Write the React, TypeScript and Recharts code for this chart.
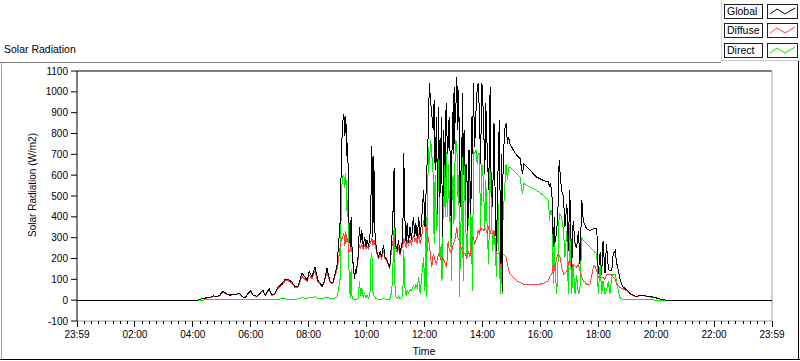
import React from 'react';
import { LineChart, Line, XAxis, YAxis, ReferenceLine } from 'recharts';

// time of day in minutes (0 = start of day, 1440 = end of day)
const minutes = [0,250,255,265,276,282,290,296,302,311,
317,323,331,336,342,348,354,360,365,373,
379,385,390,398,404,410,416,425,431,437,
445,452,458,466,472,477,481,487,493,499,
508,512,518,524,530,535,539,545,548,550,
553,555,557,559,561,563,566,568,570,572,
575,577,579,583,585,588,590,593,596,599,
601,604,607,609,611,613,615,617,619,622,
625,628,631,635,638,642,645,648,652,654,
657,659,661,664,666,669,672,675,677,680,
682,684,687,690,693,697,700,702,705,708,
711,714,718,721,723,724,728,730,733,735,
738,740,742,745,747,749,752,755,756,758,
759,762,763,764,766,767,769,770,771,773,
774,776,777,778,780,781,782,784,787,789,
791,793,794,796,798,799,800,802,803,805,
807,809,810,811,813,814,816,817,818,820,
821,824,827,829,831,834,836,839,842,845,
847,850,853,856,858,861,864,867,869,872,
875,878,879,881,882,883,886,889,892,894,
897,904,911,918,923,926,939,952,966,977,
979,981,984,987,989,990,994,997,999,1001,
1004,1008,1011,1015,1018,1021,1025,1028,1032,1035,
1039,1042,1046,1049,1053,1056,1063,1070,1073,1077,
1080,1084,1087,1090,1094,1097,1101,1104,1108,1111,
1115,1118,1122,1125,1131,1140,1146,1152,1160,1166,
1173,1181,1187,1193,1204,1214,1220,1440];

const globalRad = [0,0,5,10,13,21,18,24,42,30,
24,29,29,35,19,10,32,45,24,19,
32,48,22,56,24,32,61,80,100,101,
88,64,67,129,112,96,136,112,160,96,
67,88,153,92,82,129,170,370,690,851,
891,787,883,690,755,401,257,401,241,177,
104,145,136,225,353,273,337,257,305,257,
289,257,305,482,739,305,690,337,273,225,
209,233,209,265,209,193,177,153,289,353,
635,337,257,241,289,225,257,289,707,337,
273,370,273,353,289,401,305,370,297,401,
303,382,527,352,500,575,816,1041,945,896,
816,961,623,880,414,928,495,880,600,302,
816,700,591,900,945,700,736,800,880,700,
495,300,720,800,993,700,1025,850,1073,816,
1009,500,447,655,800,993,600,816,800,480,
655,500,334,720,720,600,414,600,880,700,
1041,736,928,1009,1041,896,655,1041,896,607,
945,720,527,1025,575,447,848,414,238,591,
864,173,700,45,500,655,816,848,752,784,
752,720,695,680,607,655,623,591,575,567,
543,560,511,254,400,270,334,463,671,607,
527,495,350,463,238,527,158,382,270,250,
334,173,479,380,358,342,334,342,345,342,
125,230,120,286,130,270,150,141,141,222,
238,180,140,100,64,48,32,24,16,24,
24,19,16,16,8,3,0,0];

const diffuseRad = [0,0,5,9,12,19,17,22,38,28,
22,27,27,32,18,10,30,40,22,18,
30,44,21,50,22,30,56,72,92,94,
82,60,62,115,100,90,120,104,140,90,
64,84,135,88,78,120,150,250,290,300,
320,260,330,280,300,230,240,260,230,170,
100,140,130,210,270,250,270,240,270,245,
260,245,270,280,300,260,290,270,250,215,
200,220,200,240,200,185,170,150,250,280,
300,270,240,230,260,215,240,260,300,270,
250,290,260,290,270,310,280,300,270,320,
270,300,382,350,360,350,290,270,200,158,
222,210,190,173,200,222,206,190,195,206,
200,180,173,165,158,200,286,260,250,238,
230,222,240,260,270,280,286,300,350,302,
290,280,270,254,240,230,222,222,222,222,
206,220,238,230,220,206,240,270,286,300,
302,270,290,302,334,318,350,340,334,350,
340,318,350,334,318,320,334,286,230,222,
222,160,230,40,200,222,214,206,173,150,
125,109,93,85,78,77,77,74,80,93,
110,120,125,173,160,141,206,222,214,206,
158,125,130,141,173,190,150,173,165,158,
173,141,110,93,85,77,77,158,165,141,
109,109,109,109,100,125,125,125,120,109,
100,77,70,61,55,44,30,22,15,22,
22,18,15,15,7,3,0,0];

const directRad = [0,0,0,1,1,1,2,2,2,2,
2,2,3,3,2,2,3,3,3,3,
3,4,3,5,3,4,5,6,6,5,
5,5,6,12,10,8,14,10,18,8,
6,10,15,8,6,10,15,100,520,590,
600,540,610,430,480,180,10,150,8,5,
3,3,4,10,90,20,60,15,30,12,
25,10,30,200,225,40,20,15,10,5,
4,6,4,8,5,4,3,3,40,120,
353,60,15,10,20,8,12,20,241,30,
25,45,35,50,45,70,55,75,60,110,
29,109,206,45,463,13,736,655,768,704,
600,270,600,334,380,704,206,270,93,150,
784,495,400,752,600,399,500,655,500,366,
400,93,480,575,600,366,500,768,752,495,
600,13,238,400,688,600,93,500,752,440,
206,206,300,655,600,495,300,173,400,45,
720,704,720,655,700,704,334,655,575,334,
575,334,173,688,495,238,334,238,109,495,
173,29,400,29,350,399,527,655,575,639,
639,623,607,591,511,559,543,527,503,479,
382,430,430,77,300,173,29,206,414,414,
399,334,206,334,29,366,29,173,29,120,
29,50,302,286,278,270,254,238,230,222,
29,173,29,93,29,45,90,29,109,125,
125,93,40,12,4,3,2,2,1,1,
1,1,1,1,0,0,0,0];

const majorTickLabels = ['23:59','02:00','04:00','06:00','08:00','10:00','12:00','14:00','16:00','18:00','20:00','22:00','23:59'];
const yTicks = [-100,0,100,200,300,400,500,600,700,800,900,1000,1100];
const seriesNames = ['Global','Diffuse','Direct'];
const seriesKeys = ['global','diffuse','direct'];
const seriesColors = ['#000000','#ff4040','#00ee00'];

const rows = minutes.map((t, i) => ({
  t,
  global: globalRad[i],
  diffuse: diffuseRad[i],
  direct: directRad[i],
}));

const xTicks = Array.from({ length: 97 }, (_, i) => i * 15);

function XTick(props: any) {
  const { x, y, payload } = props;
  const v = payload.value as number;
  const major = v % 120 === 0;
  return (
    <g>
      <line x1={x} x2={x} y1={y} y2={y + (major ? 6 : 3)} stroke="#000" shapeRendering="crispEdges" />
      {major && (
        <text x={x} y={y + 17} textAnchor="middle" fontSize={10} fill="#000">
          {majorTickLabels[v / 120]}
        </text>
      )}
    </g>
  );
}

function LegendRow({ name, color, top }: { name: string; color: string; top: number }) {
  return (
    <>
      <div
        style={{
          position: 'absolute', left: 724, top, width: 39, height: 15, boxSizing: 'border-box',
          border: '1px solid #202020', fontSize: 10.5, lineHeight: '13px', paddingLeft: 2, color: '#000',
          background: '#fff', whiteSpace: 'nowrap',
        }}
      >
        {name}
      </div>
      <svg style={{ position: 'absolute', left: 767, top }} width={31} height={15}>
        <rect x={0.5} y={0.5} width={30} height={14} fill="#fff" stroke="#202020" />
        <polyline points="3,10 10,5 18,10 28,4" fill="none" stroke={color} strokeWidth={1} />
      </svg>
    </>
  );
}

export default function App() {
  const legendTops = [4, 23, 43];
  return (
    <div
      style={{
        position: 'absolute', left: 0, top: 0, width: 800, height: 361, background: '#fff',
        fontFamily: '"Liberation Sans", Arial, sans-serif', overflow: 'hidden',
      }}
    >
      <style>{`.recharts-line-curve{shape-rendering:crispEdges;}`}</style>
      {/* frame */}
      <div style={{ position: 'absolute', left: 0, top: 62, width: 721, height: 1, background: '#808080' }} />
      <div style={{ position: 'absolute', left: 1, top: 62, width: 1, height: 298, background: '#a0a0a0' }} />
      <div style={{ position: 'absolute', left: 0, top: 359, width: 800, height: 1, background: '#000' }} />
      <div style={{ position: 'absolute', left: 798, top: 61, width: 1, height: 299, background: '#000' }} />
      {/* legend panel */}
      <div style={{ position: 'absolute', left: 721, top: 0, width: 1, height: 62, background: '#d8d8d8' }} />
      <div style={{ position: 'absolute', left: 721, top: 60, width: 79, height: 1, background: '#c8c8c8' }} />
      {seriesNames.map((n, i) => (
        <LegendRow key={n} name={n} color={seriesColors[i]} top={legendTops[i]} />
      ))}
      {/* title */}
      <div style={{ position: 'absolute', left: 4, top: 43, fontSize: 10.5, color: '#000', whiteSpace: 'nowrap' }}>
        Solar Radiation
      </div>
      <div style={{ position: 'absolute', left: 0, top: 0 }}>
        <LineChart width={800} height={361} data={rows} margin={{ top: 71, right: 28, bottom: 0, left: 0 }}>
          <XAxis
            dataKey="t"
            type="number"
            domain={[0, 1440]}
            ticks={xTicks}
            interval={0}
            tickLine={false}
            tickSize={0}
            tickMargin={0}
            tick={<XTick />}
            axisLine={{ stroke: '#a0a0a0' }}
            height={40}
            allowDataOverflow
          />
          <YAxis
            type="number"
            domain={[-100, 1100]}
            ticks={yTicks}
            interval={0}
            width={77}
            tickSize={6}
            tickMargin={3}
            tick={{ fontSize: 10, fill: '#000' }}
            tickLine={{ stroke: '#000' }}
            axisLine={{ stroke: '#000' }}
            allowDataOverflow
          />
          <ReferenceLine y={1100} stroke="#000" />
          <ReferenceLine x={1440} stroke="#a0a0a0" />
          {[2, 1, 0].map((i) => (
            <Line
              key={seriesKeys[i]}
              type="linear"
              dataKey={seriesKeys[i]}
              stroke={seriesColors[i]}
              strokeWidth={1}
              dot={false}
              activeDot={false}
              isAnimationActive={false}
            />
          ))}
        </LineChart>
      </div>
      <svg style={{ position: 'absolute', left: 0, top: 0, pointerEvents: 'none' }} width={800} height={361}>
        <text x={32} y={185} transform="rotate(-90 32 185)" textAnchor="middle" dominantBaseline="central" fontSize={10} fill="#000">
          Solar Radiation (W/m2)
        </text>
        <text x={424} y={355} textAnchor="middle" fontSize={10.5} fill="#000">
          Time
        </text>
      </svg>
    </div>
  );
}
